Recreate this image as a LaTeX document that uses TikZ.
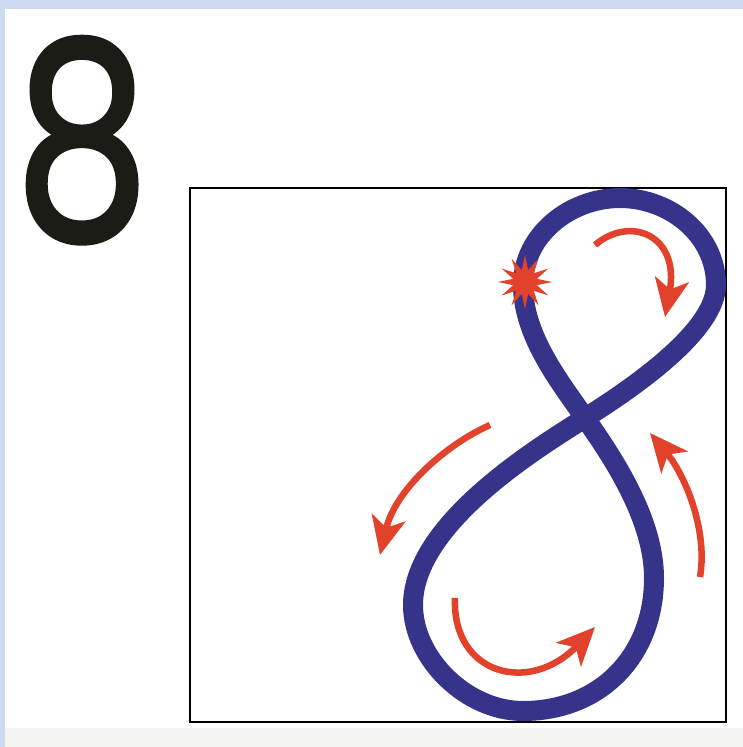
\documentclass[tikz,border=0pt]{standalone}
\usepackage{fontspec}
\setmainfont{Poppins}
\newfontfamily\numeralfont[FakeBold=1.6]{Poppins}
\usepackage{tikz}
\usetikzlibrary{arrows.meta,shapes.geometric}
\definecolor{PageBlue}{HTML}{CDDAF1}
\definecolor{PageGray}{HTML}{F4F4F1}
\definecolor{LoopBlue}{HTML}{35338A}
\definecolor{ArrowRed}{HTML}{E2412B}
\definecolor{DigitBlack}{HTML}{1C1C16}

\begin{document}
\begin{tikzpicture}[
  x=1pt, y=-1pt,
  % --- page and frame ---
  frame/.style={draw=black, line width=1.8pt},
  digit/.style={inner sep=0pt, anchor=base, text=DigitBlack, xscale=0.78,
    font=\numeralfont\fontsize{274}{274}\selectfont},
  % --- figure eight ---
  loop/.style={draw=LoopBlue, line width=20pt, line join=round},
  turn/.style={draw=ArrowRed, line width=6.5pt, -{Stealth[length=38pt,width=34pt,inset=10pt]}},
  spark/.style={star, star points=12, star point ratio=2.2, fill=ArrowRed, minimum size=54pt, inner sep=0pt},
]
\useasboundingbox (0,0) rectangle (743,747);

% =================== PAGE ===================
\fill[PageBlue] (0,0) rectangle (743,747);
\fill[white] (5,9) rectangle (743,747);
\fill[PageGray] (5,728) rectangle (743,747);

% big numeral
\node[digit] (numeral) at (82,238) {8};

% drawing frame
\draw[frame] (190,188) rectangle (726,722);

% =================== FIGURE EIGHT ===================
\coordinate (top)    at (620,198);
\coordinate (upR)    at (716,285);
\coordinate (cross)  at (585,418);
\coordinate (lowL)   at (413,605);
\coordinate (bottom) at (523,711);
\coordinate (lowR)   at (654,578);
\coordinate (upL)    at (523,285);

\draw[loop] (top)
  .. controls (670,198) and (716,235) .. (upR)
  .. controls (716,330) and (636,386) .. (cross)
  .. controls (534,450) and (413,525) .. (lowL)
  .. controls (413,658) and (466,711) .. (bottom)
  .. controls (600,711) and (654,656) .. (lowR)
  .. controls (654,518) and (611,455) .. (cross)
  .. controls (559,381) and (523,335) .. (upL)
  .. controls (523,235) and (570,198) .. cycle;

% start point
\node[spark] (start) at (525,282) {};

% =================== DIRECTION ARROWS ===================
\coordinate (t1) at (595,245);  \coordinate (h1) at (665,317);
\coordinate (t2) at (490,425);  \coordinate (h2) at (380,555);
\coordinate (t3) at (455,598);  \coordinate (h3) at (595,627);
\coordinate (t4) at (700,577);  \coordinate (h4) at (650,433);

\draw[turn] (t1) .. controls (630,215) and (680,235) .. (h1);
\draw[turn] (t2) .. controls (445,445) and (395,490) .. (h2);
\draw[turn] (t3) .. controls (452,675) and (530,695) .. (h3);
\draw[turn] (t4) .. controls (708,530) and (685,475) .. (h4);

\end{tikzpicture}
\end{document}
